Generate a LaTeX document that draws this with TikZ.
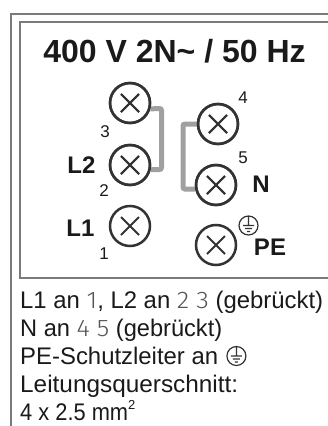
\documentclass[tikz,border=0pt]{standalone}
\usepackage{graphicx}
\usepackage{fontspec}
\setmainfont{Liberation Sans}
\newfontfamily\thinfont[FakeStretch=1.08]{Fira Sans Light}
\definecolor{txt}{HTML}{1A1A1A}
\definecolor{thincol}{HTML}{555555}
\definecolor{termcol}{HTML}{333333}
\definecolor{bridgecol}{HTML}{A0A0A0}
\definecolor{framecol}{HTML}{7A7A7A}
\newcommand\thn[1]{{\thinfont\color{thincol}#1}}
\newcommand\fitw[2]{\resizebox{#1}{\height}{#2}}
\tikzset{
  term/.style={circle, draw=termcol, line width=2.5pt, minimum size=40pt, inner sep=0pt,
    path picture={\draw[termcol, line width=1.8pt]
      ([shift={(-9pt,-9pt)}]path picture bounding box.center) -- ([shift={(9pt,9pt)}]path picture bounding box.center)
      ([shift={(-9pt,9pt)}]path picture bounding box.center) -- ([shift={(9pt,-9pt)}]path picture bounding box.center);}},
  bridge/.style={draw=bridgecol, line width=5pt, rounded corners=2pt},
  numlab/.style={font=\fontsize{17}{17}\selectfont, text=txt, inner sep=0pt},
  biglab/.style={font=\bfseries\fontsize{24}{24}\selectfont, text=txt, inner sep=0pt},
  txtline/.style={font=\fontsize{24}{28}\selectfont, text=txt, inner sep=0pt, anchor=base west},
  frame/.style={draw=framecol, line width=1.8pt},
  earth/.pic={\draw[termcol, line width=1.2pt] (0,0) circle (9.5)
      (0,-9.5) -- (0,0) (-5.5,0) -- (5.5,0) (-3.5,3) -- (3.5,3) (-1.5,6) -- (1.5,6);}
}
\begin{document}
\begin{tikzpicture}[x=1pt, y=-1pt]
\useasboundingbox (0,0) rectangle (328,426);
\clip (0,0) rectangle (328,426);
\fill[white] (0,0) rectangle (328,426);
% frames
\draw[frame] (11,440) -- (11,14) -- (340,14);
\draw[frame] (340,22) -- (20,22) -- (20,278) -- (340,278);
% title
\node[font=\bfseries\fontsize{32}{32}\selectfont, text=txt, inner sep=0pt, anchor=base] (title) at (174.5,62) {400 V 2N\textasciitilde{} / 50 Hz};
% terminals
\node[term] (t3) at (130,103) {};
\node[term] (t2) at (130,165) {};
\node[term] (t1) at (130,226) {};
\node[term] (t4) at (218,124) {};
\node[term] (t5) at (216,185) {};
\node[term] (tpe) at (216,245) {};
% bridges
\draw[bridge] (t3.-16) -- (161.5,108.5) -- (161.5,169.5) -- (t2.-13);
\draw[bridge] (t4.west) -- (183,124) -- (183,189) -- (t5.191.5);
\node[term] at (t3) {};
\node[term] at (t2) {};
\node[term] at (t4) {};
\node[term] at (t5) {};
% labels
\node[numlab] (n3) at (105,132) {3};
\node[numlab] (n4) at (243,98) {4};
\node[numlab] (n2) at (104,190.5) {2};
\node[numlab] (n5) at (243,157.5) {5};
\node[numlab] (n1) at (104,254) {1};
\node[biglab] (lL2) at (81.5,165) {L2};
\node[biglab] (lN) at (261,184) {N};
\node[biglab] (lL1) at (80.5,228.5) {L1};
\node[biglab] (lPE) at (270,247.5) {PE};
\pic at (248.5,225.5) {earth};
% text
\node[txtline] (l1) at (20,308) {\fitw{303pt}{L1 an \thn{1}, L2 an \thn{2 3} (gebrückt)}};
\node[txtline] (l2) at (20,336.5) {\fitw{202pt}{N an \thn{4 5} (gebrückt)}};
\node[txtline] (l3) at (20,364.5) {\fitw{198pt}{PE-Schutzleiter an}};
\path (l3.base east) ++(18,-8.5) pic {earth};
\node[txtline] (l4) at (20,392.5) {\fitw{218pt}{Leitungsquerschnitt:}};
\node[txtline] (l5) at (20,420.5) {\fitw{108pt}{4 x 2.5 mm}\raisebox{0.45em}{\fontsize{13}{13}\selectfont 2}};
\end{tikzpicture}
\end{document}
